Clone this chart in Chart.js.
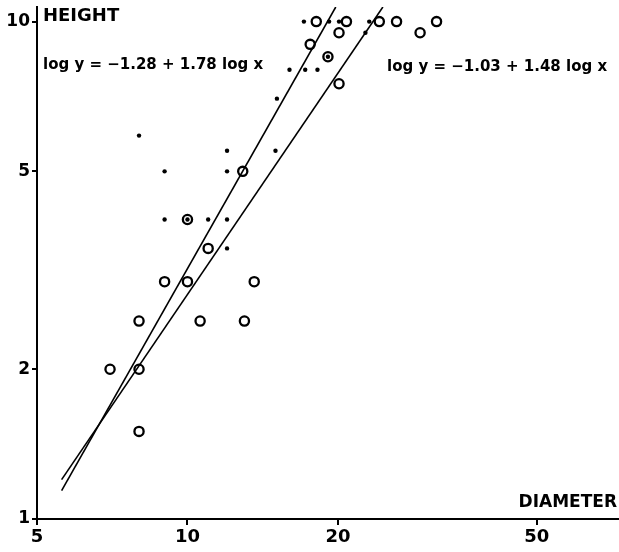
<!DOCTYPE html>
<html><head><meta charset="utf-8">
<script src="https://cdn.jsdelivr.net/npm/chart.js@4.4.0/dist/chart.umd.min.js"></script>
<style>html,body{margin:0;padding:0;background:#fff}#wrap{position:relative;width:619px;height:552px}</style>
</head><body><div id="wrap"><canvas id="c" width="619" height="552"></canvas></div>
<script>
// Tick labels
const xTicks = [5, 10, 20, 50];
const yTicks = [1, 2, 5, 10];
// Open circles (diameter, height)
const circleX = [7.0, 8.0, 8.0, 8.0, 9.0, 10.0, 10.0, 10.6, 11.0, 12.9, 13.0, 13.6, 17.6, 18.1, 19.1, 20.1, 20.8, 20.1, 24.2, 26.2, 29.2, 31.5];
const circleY = [2.0, 2.5, 2.0, 1.5, 3.0, 4.0, 3.0, 2.5, 3.5, 5.0, 2.5, 3.0, 9.0, 10.0, 8.5, 9.5, 10.0, 7.5, 10.0, 10.0, 9.5, 10.0];
// Small dots (diameter, height)
const dotX = [8.0, 12.0, 15.0, 9.0, 12.0, 9.0, 11.0, 12.0, 12.0, 10.0, 15.1, 16.0, 17.2, 18.2, 17.1, 19.2, 20.1, 22.7, 23.1, 19.1];
const dotY = [5.9, 5.5, 5.5, 5.0, 5.0, 4.0, 4.0, 4.0, 3.5, 4.0, 7.0, 8.0, 8.0, 8.0, 10.0, 10.0, 10.0, 9.5, 10.0, 8.5];
// Fitted lines (end points)
const lineAX = [5.6, 19.8];
const lineAY = [1.14, 10.7];
const lineBX = [5.6, 24.6];
const lineBY = [1.2, 10.7];
const eqA = 'log y = \u22121.28 + 1.78 log x';
const eqB = 'log y = \u22121.03 + 1.48 log x';

const pts = (xs, ys) => xs.map((x, i) => ({x: x, y: ys[i]}));
const FONT = '"DejaVu Sans", sans-serif';

const textPlugin = {
  id: 'texts',
  afterDraw(chart) {
    const ctx = chart.ctx, a = chart.chartArea;
    ctx.save();
    ctx.fillStyle = '#000';
    ctx.textBaseline = 'middle';
    ctx.font = 'bold 18px ' + FONT;
    ctx.textAlign = 'left';
    ctx.fillText('HEIGHT', a.left + 6, a.top + 9);
    ctx.font = 'bold 17px ' + FONT;
    ctx.textAlign = 'right';
    ctx.fillText('DIAMETER', a.right - 2, a.bottom - 16);
    ctx.font = 'bold 15px ' + FONT;
    ctx.textAlign = 'left';
    ctx.fillText(eqA, a.left + 6, a.top + 58);
    ctx.fillText(eqB, a.left + 350, a.top + 60);
    ctx.restore();
  }
};

new Chart(document.getElementById('c'), {
  type: 'scatter',
  data: {
    datasets: [
      {data: pts(lineAX, lineAY), showLine: true, borderColor: '#000', borderWidth: 1.6, pointRadius: 0, order: 1},
      {data: pts(lineBX, lineBY), showLine: true, borderColor: '#000', borderWidth: 1.6, pointRadius: 0, order: 1},
      {data: pts(circleX, circleY), pointRadius: 4.6, borderWidth: 2.3, borderColor: '#000', backgroundColor: 'rgba(255,255,255,0)', pointHoverRadius: 4.6, order: 2},
      {data: pts(dotX, dotY), pointRadius: 2.2, borderWidth: 0, backgroundColor: '#000', borderColor: '#000', order: 3}
    ]
  },
  options: {
    responsive: false,
    animation: false,
    devicePixelRatio: 1,
    layout: {autoPadding: false, padding: {left: 0, right: 0, top: 7, bottom: 0}},
    plugins: {legend: {display: false}, tooltip: {enabled: false}},
    scales: {
      x: {
        type: 'logarithmic', min: 5, max: 73,
        afterBuildTicks: s => { s.ticks = xTicks.map(v => ({value: v})); },
        afterFit: s => { s.height = 33; s.paddingLeft = 0; s.paddingRight = 0; },
        grid: {display: true, drawOnChartArea: false, drawTicks: true, tickLength: 6, color: '#000', lineWidth: 2},
        border: {display: true, color: '#000', width: 2},
        ticks: {color: '#000', font: {family: FONT, size: 18, weight: 'bold'}, padding: 2, maxRotation: 0, autoSkip: false, callback: v => String(v)}
      },
      y: {
        type: 'logarithmic', min: 1, max: 10.7,
        afterBuildTicks: s => { s.ticks = yTicks.map(v => ({value: v})); },
        afterFit: s => { s.width = 37; s.paddingTop = 0; s.paddingBottom = 0; },
        grid: {display: true, drawOnChartArea: false, drawTicks: true, tickLength: 5, color: '#000', lineWidth: 2},
        border: {display: true, color: '#000', width: 2},
        ticks: {color: '#000', font: {family: FONT, size: 17, weight: 'bold'}, padding: 2, autoSkip: false, callback: v => String(v)}
      }
    }
  },
  plugins: [textPlugin]
});
</script>
</body></html>
